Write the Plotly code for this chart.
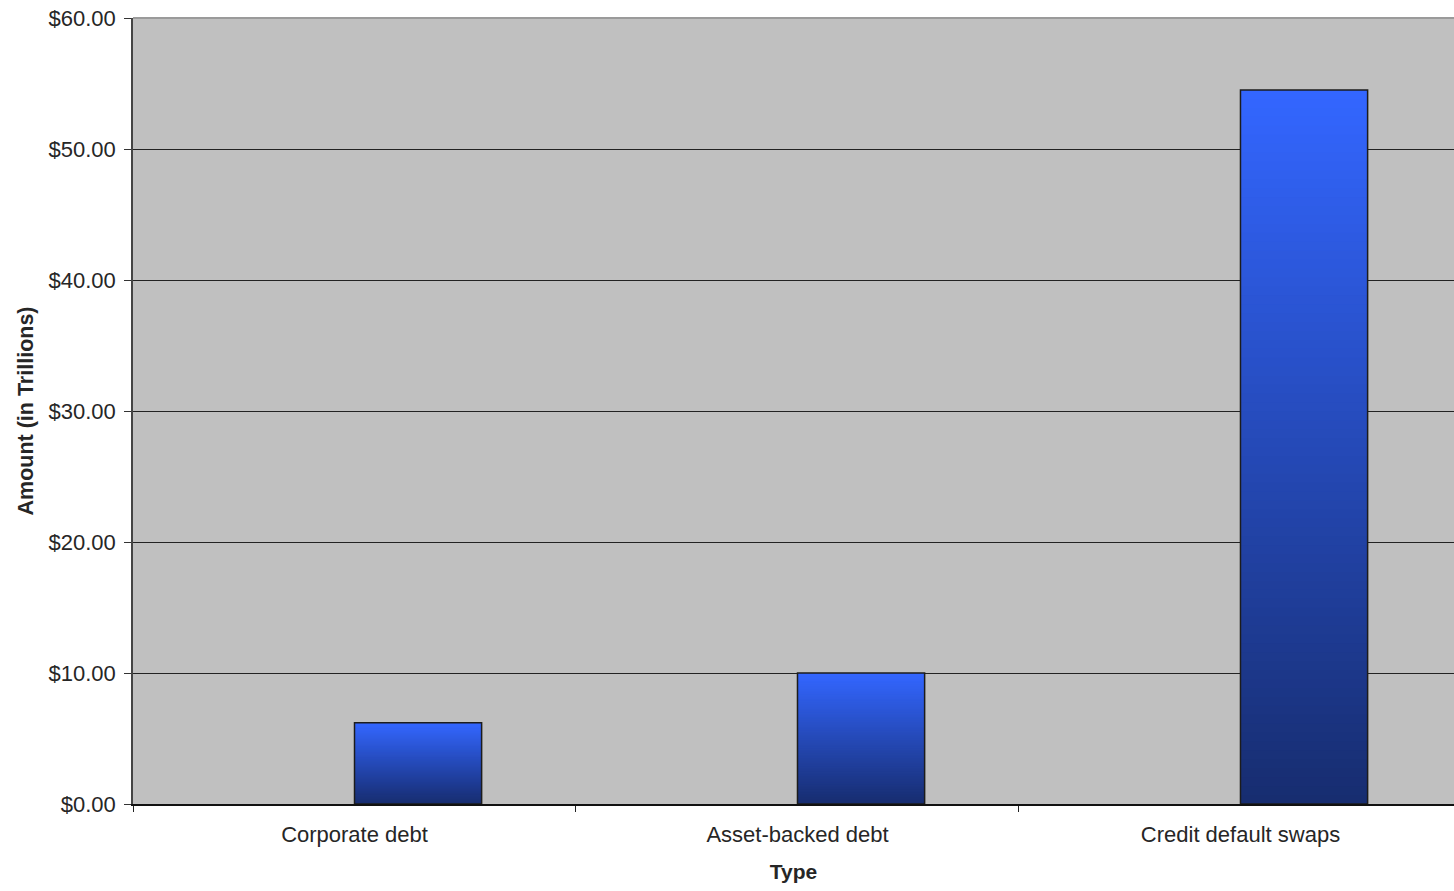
import plotly.graph_objects as go

categories = ["Corporate debt", "Asset-backed debt", "Credit default swaps"]
amounts = [6.2, 10.0, 54.5]
y_ticks = [0, 10, 20, 30, 40, 50, 60]

TOP_RGB = (0x33, 0x66, 0xFF)
BOT_RGB = (0x17, 0x2D, 0x70)
N = 80
BAR_W = 0.287
FONT = "Liberation Sans, Arial, sans-serif"


def mix(t):
    r, g, b = (round(a + (c - a) * t) for a, c in zip(TOP_RGB, BOT_RGB))
    return f"rgb({r},{g},{b})"


fig = go.Figure()
# gradient fill: successively shorter bars, each covering the lower part
for k in range(N):
    frac = 1 - k / N
    fig.add_trace(go.Bar(
        x=categories,
        y=[v * frac for v in amounts],
        offset=0, width=BAR_W,
        marker=dict(color=mix(k / (N - 1)), line=dict(width=0)),
        hoverinfo="skip", showlegend=False,
    ))
# outline
fig.add_trace(go.Bar(
    x=categories, y=amounts, offset=0, width=BAR_W,
    marker=dict(color="rgba(0,0,0,0)", line=dict(color="#1c1c1c", width=1.5)),
    showlegend=False, name="Amount",
))

fig.update_layout(
    width=1454, height=891,
    margin=dict(l=133, r=0, t=18, b=87),
    barmode="overlay",
    plot_bgcolor="#c0c0c0",
    paper_bgcolor="white",
    font=dict(family=FONT, size=22, color="#262626"),
    xaxis=dict(
        type="category",
        range=[-0.5, 2.482],
        showgrid=False,
        ticks="outside", tickson="boundaries", ticklen=6, tickcolor="#222",
        showline=True, linecolor="#111", linewidth=1.5,
        ticklabelstandoff=10,
        title=dict(text="<b>Type</b>", font=dict(size=21), standoff=18),
        automargin=False,
    ),
    yaxis=dict(
        range=[0, 60],
        tickvals=y_ticks,
        tickformat="$.2f",
        ticks="outside", ticklen=7, tickcolor="#333",
        showline=True, linecolor="#444", linewidth=1.5,
        showgrid=True, gridcolor="#222", gridwidth=1.2,
        zeroline=False,
        ticklabelstandoff=4,
        title=dict(text="<b>Amount (in Trillions)</b>", font=dict(size=21.5), standoff=9),
        automargin=False,
    ),
    shapes=[dict(type="line", xref="paper", yref="paper", x0=0, x1=1, y0=1, y1=1,
                 line=dict(color="#9a9a9a", width=2), layer="above")],
)

fig.write_html("out.html")
